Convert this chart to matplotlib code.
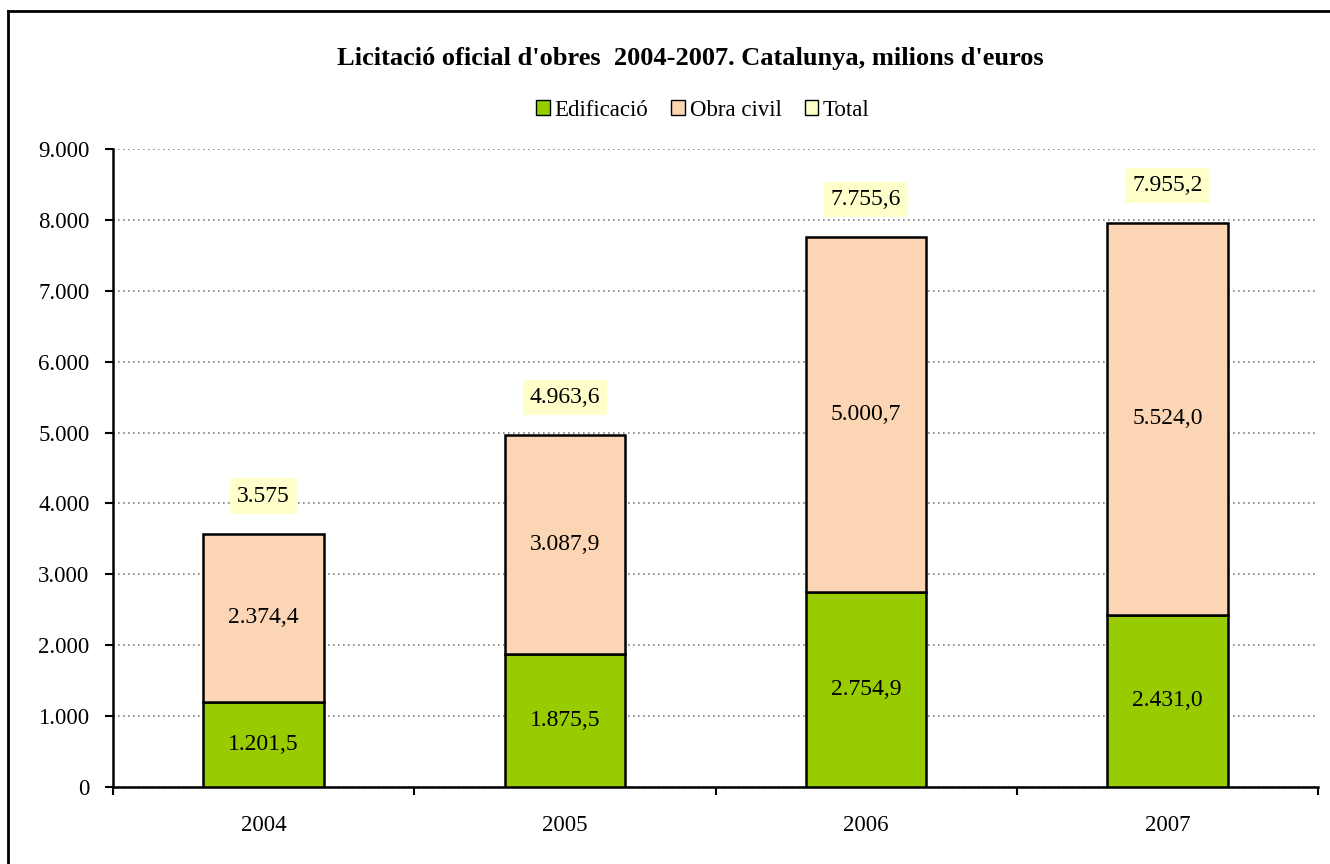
import numpy as np
import matplotlib.pyplot as plt
from matplotlib.lines import Line2D
from matplotlib.patches import Patch
from matplotlib.ticker import FuncFormatter

years = ['2004', '2005', '2006', '2007']
edificacio = [1201.5, 1875.5, 2754.9, 2431.0]
obra_civil = [2374.4, 3087.9, 5000.7, 5524.0]
total = [3575, 4963.6, 7755.6, 7955.2]
total_labels = ['3.575', '4.963,6', '7.755,6', '7.955,2']

c_edif = '#99CC00'
c_obra = '#FCD5B4'
c_total = '#FFFFCC'

plt.rcParams['font.family'] = ['Liberation Serif', 'DejaVu Serif']


def fmt_num(v, dec=1):
	s = f'{v:,.{dec}f}'
	return s.replace(',', 'X').replace('.', ',').replace('X', '.')


fig = plt.figure(figsize=(13.3, 8.64), dpi=100)
ax = fig.add_axes([113 / 1330, 1 - 787 / 864, (1318 - 113) / 1330, (787 - 149) / 864])

x = np.arange(len(years))
w = 0.4
ax.bar(x, edificacio, w, color=c_edif, edgecolor='black', linewidth=1.8, zorder=3)
ax.bar(x, obra_civil, w, bottom=edificacio, color=c_obra, edgecolor='black', linewidth=1.8, zorder=3)

for i in range(len(years)):
	ax.text(x[i], edificacio[i] / 2, fmt_num(edificacio[i]), ha='center', va='center', fontsize=17, zorder=4)
	ax.text(x[i], edificacio[i] + obra_civil[i] / 2, fmt_num(obra_civil[i]), ha='center', va='center', fontsize=17, zorder=4)
	ax.annotate(total_labels[i], (x[i], total[i]), xytext=(0, 27), textcoords='offset points',
		ha='center', va='center', fontsize=17, zorder=4,
		bbox=dict(boxstyle='square,pad=0.3', facecolor=c_total, edgecolor='none'))

ax.set_xlim(-0.5, 3.5)
ax.set_ylim(0, 9000)
ax.set_yticks(np.arange(0, 9001, 1000))
ax.yaxis.set_major_formatter(FuncFormatter(lambda v, p: fmt_num(v, 0)))
ax.set_xticks(x)
ax.set_xticklabels(years)
ax.set_xticks(np.arange(-0.5, 3.6, 1), minor=True)
ax.tick_params(axis='x', which='major', length=0, pad=20, labelsize=16.5)
ax.tick_params(axis='x', which='minor', length=6, width=1.5, direction='out')
ax.tick_params(axis='y', length=6, width=1.5, direction='out', labelsize=16.5, pad=11)
ax.grid(axis='y', color='#808080', linestyle=(0, (1, 2)), linewidth=1.2, zorder=0)
for s in ['top', 'right']:
	ax.spines[s].set_visible(False)
ax.spines['left'].set_linewidth(1.8)
ax.spines['bottom'].set_linewidth(1.8)

fig.text(690 / 1330, 1 - 58 / 864, "Licitació oficial d'obres  2004-2007. Catalunya, milions d'euros",
	ha='center', va='center', fontsize=19, fontweight='bold')

handles = [Patch(facecolor=c_edif, edgecolor='black'),
	Patch(facecolor=c_obra, edgecolor='black'),
	Patch(facecolor=c_total, edgecolor='black')]
fig.legend(handles, ['Edificació', 'Obra civil', 'Total'], loc='center', bbox_to_anchor=(703 / 1330, 1 - 110 / 864),
	ncol=3, frameon=False, fontsize=16.5, handlelength=0.6, handleheight=0.6, handletextpad=0.2, columnspacing=1.0)

# outer frame
fig.add_artist(Line2D([8 / 1330, 8 / 1330], [0, 1 - 11 / 864], color='black', linewidth=2, transform=fig.transFigure))
fig.add_artist(Line2D([8 / 1330, 1], [1 - 11 / 864, 1 - 11 / 864], color='black', linewidth=2, transform=fig.transFigure))

fig.savefig('out.png', dpi=100)
